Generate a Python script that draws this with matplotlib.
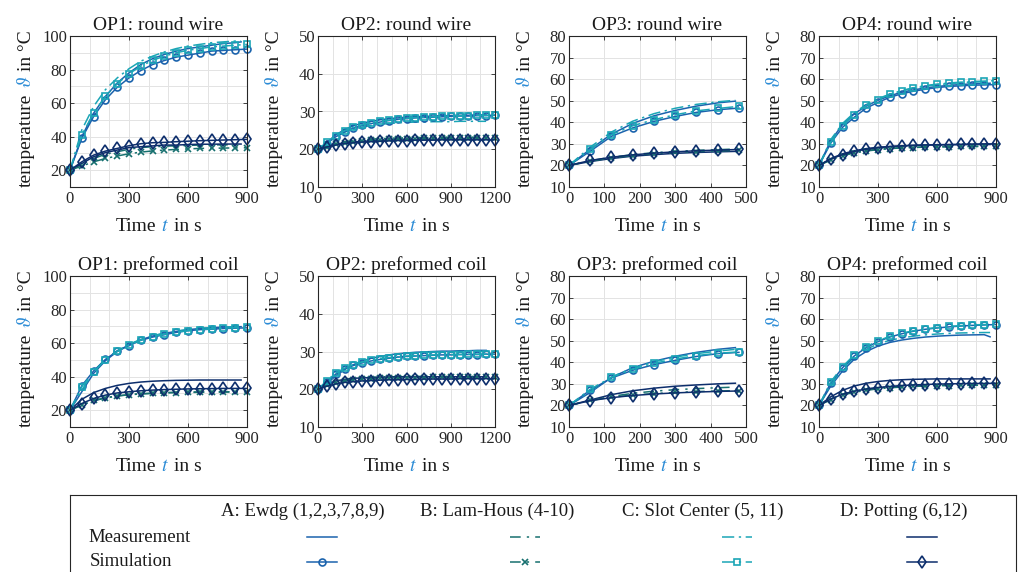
import numpy as np
import matplotlib
matplotlib.use('Agg')
import matplotlib.pyplot as plt
from matplotlib.ticker import MultipleLocator

plt.rcParams['font.family'] = ['Liberation Serif', 'DejaVu Serif']
plt.rcParams['mathtext.fontset'] = 'stix'

# ---- time axes (s) ----
t1_sim = np.arange(0, 901, 60)
t1_meas = np.append(np.arange(0, 841, 60), 870)
t2_sim = np.arange(0, 1201, 60)
t2_meas = np.arange(0, 1141, 60)
t3_sim = np.arange(0, 481, 60)
t3_meas = np.append(np.arange(0, 421, 60), 470)

# ---- OP1 round wire ----
op1_rw_A_sim = [20, 39, 52, 62, 69.4, 75, 79.4, 83, 85.4, 87.4, 88.6, 89.8, 91, 91.4, 91.8, 92.2]
op1_rw_B_sim = [20, 22.5, 25, 27, 28.5, 29.8, 30.8, 31.5, 32, 32.4, 32.7, 33, 33.1, 33.2, 33.3, 33.4]
op1_rw_C_sim = [20, 41, 54, 64, 71.5, 77.5, 82, 85.5, 88, 90, 91.5, 92.5, 93.5, 94, 94.5, 95]
op1_rw_D_sim = [20, 25, 29, 31.4, 33, 34.6, 35.8, 36.4, 36.6, 37, 37.3, 37.6, 37.8, 38, 38.2, 38.4]
op1_rw_A_meas = [20, 40, 54, 64, 72, 78, 83, 86.5, 89, 91, 92.5, 93.5, 94.5, 95.5, 96, 96.5]
op1_rw_B_meas = [20, 23.5, 27, 29.5, 31, 32.5, 33.5, 34, 34.3, 34.6, 34.8, 35, 35, 35.2, 35.2, 35.2]
op1_rw_C_meas = [20, 44, 58, 68, 75, 80.5, 85, 88, 90.5, 92.5, 94, 95, 96, 96.5, 97, 97]
op1_rw_D_meas = [20, 24, 28, 30.5, 32, 33.5, 34, 34.5, 35, 35, 35.3, 35.5, 35.5, 35.6, 35.6, 35.6]

# ---- OP2 round wire ----
op2_rw_A_sim = [20, 21.5, 23.3, 24.6, 25.6, 26.3, 26.8, 27.2, 27.6, 27.9, 28.1, 28.3, 28.4, 28.5, 28.6, 28.7, 28.8, 28.8, 28.9, 28.9, 29.0]
op2_rw_B_sim = [20, 20.7, 21.3, 21.7, 22.0, 22.2, 22.4, 22.5, 22.6, 22.7, 22.8, 22.8, 22.9, 22.9, 22.9, 23.0, 23.0, 23.0, 23.0, 23.0, 23.0]
op2_rw_C_sim = [20, 21.8, 23.6, 24.9, 25.8, 26.5, 27.0, 27.4, 27.7, 28.0, 28.2, 28.4, 28.5, 28.6, 28.7, 28.8, 28.9, 28.9, 29.0, 29.0, 29.1]
op2_rw_D_sim = [20, 20.6, 21.1, 21.5, 21.7, 21.9, 22.0, 22.1, 22.2, 22.3, 22.3, 22.4, 22.4, 22.4, 22.5, 22.5, 22.5, 22.5, 22.5, 22.5, 22.5]
op2_rw_A_meas = [20, 21.8, 23.8, 25.2, 26.2, 26.9, 27.4, 27.8, 28.1, 28.3, 28.5, 28.6, 28.7, 28.8, 28.9, 28.9, 29.0, 29.0, 29.1, 29.1]
op2_rw_B_meas = [20, 20.8, 21.5, 22.0, 22.3, 22.5, 22.7, 22.8, 22.9, 23.0, 23.0, 23.1, 23.1, 23.1, 23.2, 23.2, 23.2, 23.2, 23.2, 23.2]
op2_rw_C_meas = [20, 21.5, 23.2, 24.5, 25.3, 25.9, 26.3, 26.6, 26.8, 27.0, 27.1, 27.2, 27.2, 27.3, 27.3, 27.3, 27.4, 27.4, 27.4, 27.4]
op2_rw_D_meas = [20, 20.7, 21.3, 21.7, 21.9, 22.1, 22.2, 22.3, 22.4, 22.4, 22.5, 22.5, 22.5, 22.6, 22.6, 22.6, 22.6, 22.6, 22.6, 22.6]

# ---- OP3 round wire ----
op3_rw_A_sim = [20, 26.6, 33.5, 37.4, 40.4, 42.7, 44.6, 45.8, 46.6]
op3_rw_B_sim = [20, 22.0, 23.5, 24.6, 25.4, 26.0, 26.4, 26.7, 27.0]
op3_rw_C_sim = [20, 27.4, 34.3, 38.4, 41.2, 43.5, 45.3, 46.4, 47.4]
op3_rw_D_sim = [20, 22.3, 23.8, 24.9, 25.7, 26.3, 26.8, 27.1, 27.4]
op3_rw_A_meas = [20, 27.5, 34.5, 39.5, 43, 45.5, 47.5, 49, 49.8]
op3_rw_B_meas = [20, 22.2, 23.8, 25.0, 25.9, 26.5, 27.0, 27.3, 27.6]
op3_rw_C_meas = [20, 28.5, 35.5, 40.5, 44, 46.5, 48.3, 49.5, 50.2]
op3_rw_D_meas = [20, 21.8, 23.2, 24.3, 25.0, 25.6, 26.0, 26.3, 26.5]

# ---- OP4 round wire ----
op4_rw_A_sim = [20, 30.4, 37.7, 42.4, 46.6, 49.2, 51.6, 53.2, 54.4, 55.3, 56.1, 56.6, 56.9, 57.2, 57.3, 57.5]
op4_rw_B_sim = [20, 22.5, 24.5, 25.8, 26.7, 27.3, 27.8, 28.1, 28.3, 28.5, 28.6, 28.7, 28.8, 28.8, 28.9, 28.9]
op4_rw_C_sim = [20, 30.8, 38.5, 43.5, 47.8, 50.5, 53, 54.7, 56, 57, 57.7, 58.2, 58.6, 58.9, 59.1, 59.3]
op4_rw_D_sim = [20, 23, 25, 26.5, 27.5, 28.2, 28.7, 29, 29.3, 29.5, 29.6, 29.7, 29.8, 29.9, 30, 30]
op4_rw_A_meas = [20, 31.5, 39, 44, 47.5, 50.2, 52.3, 53.9, 55, 55.9, 56.6, 57.1, 57.5, 57.8, 58.0, 58.1]
op4_rw_B_meas = [20, 22.8, 24.8, 26, 26.9, 27.5, 27.9, 28.2, 28.4, 28.5, 28.6, 28.7, 28.7, 28.8, 28.8, 28.8]
op4_rw_C_meas = [20, 32, 39.5, 44.5, 48.2, 51, 53, 54.6, 55.8, 56.7, 57.4, 57.9, 58.3, 58.6, 58.8, 58.9]
op4_rw_D_meas = [20, 23.2, 25.4, 26.8, 27.8, 28.4, 28.8, 29.1, 29.3, 29.4, 29.5, 29.6, 29.6, 29.7, 29.7, 29.7]

# ---- OP1 preformed coil ----
op1_pc_A_sim = [20, 34.6, 43.4, 50.3, 55.2, 58.5, 61.7, 63.6, 65, 66.4, 67.4, 68, 68.3, 68.7, 68.9, 69.1]
op1_pc_B_sim = [20, 23.2, 25.8, 27.4, 28.5, 29.2, 29.7, 30, 30.3, 30.5, 30.6, 30.7, 30.8, 30.8, 30.9, 30.9]
op1_pc_C_sim = [20, 34, 43, 50, 55, 58.8, 61.8, 63.8, 65.3, 66.5, 67.4, 68, 68.5, 68.9, 69.2, 69.4]
op1_pc_D_sim = [20, 24, 27, 29, 30.3, 31, 31.6, 32, 32.3, 32.5, 32.7, 32.8, 32.9, 33, 33, 33]
op1_pc_A_meas = [20, 31, 42, 49.5, 55, 59, 62, 64.2, 65.8, 67, 68, 68.7, 69.2, 69.5, 69.7, 69.8]
op1_pc_B_meas = [20, 23, 25.6, 27.3, 28.5, 29.3, 29.8, 30.2, 30.5, 30.7, 30.8, 30.9, 31, 31, 31, 31]
op1_pc_C_meas = [20, 32, 43, 50.5, 55.5, 59.3, 62.2, 64.4, 66, 67.2, 68.1, 68.8, 69.2, 69.5, 69.7, 69.8]
op1_pc_D_meas = [20, 26.5, 30.5, 33, 34.8, 36, 36.8, 37.3, 37.6, 37.8, 37.9, 38, 38, 38, 38, 38]

# ---- OP2 preformed coil ----
op2_pc_A_sim = [20, 22, 24, 25.4, 26.3, 27, 27.5, 27.9, 28.2, 28.5, 28.7, 28.8, 28.9, 29, 29.1, 29.1, 29.2, 29.2, 29.2, 29.3, 29.3]
op2_pc_B_sim = [20, 21, 21.7, 22.2, 22.5, 22.7, 22.8, 22.9, 23.0, 23.0, 23.1, 23.1, 23.1, 23.2, 23.2, 23.2, 23.2, 23.2, 23.2, 23.2, 23.2]
op2_pc_C_sim = [20, 22.3, 24.3, 25.6, 26.5, 27.2, 27.7, 28.1, 28.4, 28.6, 28.8, 28.9, 29, 29.1, 29.1, 29.2, 29.2, 29.3, 29.3, 29.3, 29.3]
op2_pc_D_sim = [20, 20.8, 21.4, 21.8, 22.0, 22.2, 22.3, 22.4, 22.5, 22.5, 22.6, 22.6, 22.7, 22.7, 22.7, 22.7, 22.8, 22.8, 22.8, 22.8, 22.8]
op2_pc_A_meas = [20, 21.5, 23.5, 25.2, 26.5, 27.5, 28.2, 28.7, 29.1, 29.4, 29.6, 29.8, 29.9, 30, 30.1, 30.1, 30.2, 30.2, 30.3, 30.3]
op2_pc_B_meas = [20, 21.2, 22, 22.5, 22.8, 23, 23.1, 23.2, 23.3, 23.3, 23.4, 23.4, 23.4, 23.4, 23.4, 23.4, 23.4, 23.4, 23.4, 23.4]
op2_pc_C_meas = [20, 21.8, 23.8, 25.4, 26.6, 27.5, 28.1, 28.6, 29, 29.3, 29.5, 29.6, 29.7, 29.8, 29.9, 29.9, 30, 30, 30, 30]
op2_pc_D_meas = [20, 21.4, 22.2, 22.6, 22.9, 23.0, 23.1, 23.2, 23.2, 23.3, 23.3, 23.3, 23.3, 23.3, 23.3, 23.3, 23.3, 23.3, 23.3, 23.3]

# ---- OP3 preformed coil ----
op3_pc_A_sim = [20, 27.1, 32.7, 36.3, 38.9, 40.9, 42.7, 44, 44.6]
op3_pc_B_sim = [20, 22.3, 23.8, 24.8, 25.5, 26, 26.4, 26.7, 26.9]
op3_pc_C_sim = [20, 27.5, 33, 36.8, 39.5, 41.5, 43.1, 44.2, 44.8]
op3_pc_D_sim = [20, 22.2, 23.6, 24.6, 25.3, 25.8, 26.2, 26.5, 26.7]
op3_pc_A_meas = [20, 26, 33, 37.5, 40.5, 42.8, 44.6, 46, 46.8]
op3_pc_B_meas = [20, 22.2, 24.2, 25.6, 26.6, 27.3, 27.8, 28.2, 28.5]
op3_pc_C_meas = [20, 26.5, 33.2, 37.3, 40.2, 42.4, 44, 45.2, 46]
op3_pc_D_meas = [20, 22.5, 25, 26.8, 28, 28.9, 29.5, 30, 30.3]

# ---- OP4 preformed coil ----
op4_pc_A_sim = [20, 30.5, 37.5, 43, 46.8, 49.6, 51.7, 53.2, 54.4, 55.3, 55.9, 56.4, 56.8, 57.1, 57.3, 57.5]
op4_pc_B_sim = [20, 22.7, 24.8, 26.1, 27, 27.7, 28.2, 28.5, 28.8, 29, 29.1, 29.2, 29.3, 29.3, 29.4, 29.4]
op4_pc_C_sim = [20, 31, 38, 43.5, 47.2, 50, 52, 53.5, 54.6, 55.5, 56.1, 56.6, 57, 57.3, 57.5, 57.6]
op4_pc_D_sim = [20, 23, 25.2, 26.6, 27.6, 28.3, 28.8, 29.2, 29.5, 29.7, 29.9, 30, 30.1, 30.2, 30.2, 30.3]
op4_pc_A_meas = [20, 29, 36, 41.5, 45, 47.5, 49.2, 50.3, 51.1, 51.7, 52.1, 52.4, 52.6, 52.7, 52.8, 51.8]
op4_pc_B_meas = [20, 23, 25.2, 26.6, 27.6, 28.2, 28.6, 28.9, 29.1, 29.2, 29.3, 29.4, 29.4, 29.5, 29.5, 29.5]
op4_pc_C_meas = [20, 29.5, 37, 42.5, 46, 48.5, 50.2, 51.3, 52.1, 52.7, 53.1, 53.4, 53.6, 53.7, 53.8, 53.8]
op4_pc_D_meas = [20, 24, 27, 29, 30.3, 31.1, 31.6, 31.9, 32.1, 32.2, 32.3, 32.3, 32.3, 32.3, 32.3, 32.3]

titles = ['OP1: round wire', 'OP2: round wire', 'OP3: round wire', 'OP4: round wire',
          'OP1: preformed coil', 'OP2: preformed coil', 'OP3: preformed coil', 'OP4: preformed coil']
legend_headers = ['A: Ewdg (1,2,3,7,8,9)', 'B: Lam-Hous (4-10)', 'C: Slot Center (5, 11)', 'D: Potting (6,12)']
legend_rows = ['Measurement', 'Simulation']

# axis setup per operating point: xlim, xticks, ylim, yticks
op_axes = {
    1: dict(xlim=(0, 900), xt=[0, 300, 600, 900], ylim=(10, 100), yt=[20, 40, 60, 80, 100]),
    2: dict(xlim=(0, 1200), xt=[0, 300, 600, 900, 1200], ylim=(10, 50), yt=[10, 20, 30, 40, 50]),
    3: dict(xlim=(0, 500), xt=[0, 100, 200, 300, 400, 500], ylim=(10, 80), yt=list(range(10, 81, 10))),
    4: dict(xlim=(0, 900), xt=[0, 300, 600, 900], ylim=(10, 80), yt=list(range(10, 81, 10))),
}
op_time = {1: (t1_sim, t1_meas), 2: (t2_sim, t2_meas), 3: (t3_sim, t3_meas), 4: (t1_sim, t1_meas)}

panels = [
    (1, [op1_rw_A_sim, op1_rw_B_sim, op1_rw_C_sim, op1_rw_D_sim], [op1_rw_A_meas, op1_rw_B_meas, op1_rw_C_meas, op1_rw_D_meas]),
    (2, [op2_rw_A_sim, op2_rw_B_sim, op2_rw_C_sim, op2_rw_D_sim], [op2_rw_A_meas, op2_rw_B_meas, op2_rw_C_meas, op2_rw_D_meas]),
    (3, [op3_rw_A_sim, op3_rw_B_sim, op3_rw_C_sim, op3_rw_D_sim], [op3_rw_A_meas, op3_rw_B_meas, op3_rw_C_meas, op3_rw_D_meas]),
    (4, [op4_rw_A_sim, op4_rw_B_sim, op4_rw_C_sim, op4_rw_D_sim], [op4_rw_A_meas, op4_rw_B_meas, op4_rw_C_meas, op4_rw_D_meas]),
    (1, [op1_pc_A_sim, op1_pc_B_sim, op1_pc_C_sim, op1_pc_D_sim], [op1_pc_A_meas, op1_pc_B_meas, op1_pc_C_meas, op1_pc_D_meas]),
    (2, [op2_pc_A_sim, op2_pc_B_sim, op2_pc_C_sim, op2_pc_D_sim], [op2_pc_A_meas, op2_pc_B_meas, op2_pc_C_meas, op2_pc_D_meas]),
    (3, [op3_pc_A_sim, op3_pc_B_sim, op3_pc_C_sim, op3_pc_D_sim], [op3_pc_A_meas, op3_pc_B_meas, op3_pc_C_meas, op3_pc_D_meas]),
    (4, [op4_pc_A_sim, op4_pc_B_sim, op4_pc_C_sim, op4_pc_D_sim], [op4_pc_A_meas, op4_pc_B_meas, op4_pc_C_meas, op4_pc_D_meas]),
]

# styles for groups A-D
colors = ['#1b63ad', '#17706f', '#1ba6b6', '#0d2e6c']
lstyles = ['-', (0, (7, 4, 1.5, 4)), (0, (8, 3, 1.5, 3)), '-']
markers = ['o', 'x', 's', 'd']
msizes = [5, 4.2, 4.6, 6]
blue_txt = '#2b8bd6'
txt_col = '#1a1a1a'

W, H = 1028, 572
fig = plt.figure(figsize=(W / 100, H / 100), dpi=100)

col_left = [70, 318, 569, 819]
row_top = [36, 276]
ax_w, ax_h = 177, 151

axes = []
for i, (op, sims, meas) in enumerate(panels):
    r, c = divmod(i, 4)
    l, t = col_left[c], row_top[r]
    ax = fig.add_axes([l / W, 1 - (t + ax_h) / H, ax_w / W, ax_h / H])
    axes.append(ax)
    cfg = op_axes[op]
    ts, tm = op_time[op]
    ax.grid(True, which='both', color='#e3e3e3', lw=0.7)
    ax.set_axisbelow(True)
    for g in range(4):
        ax.plot(tm, meas[g], color=colors[g], ls=lstyles[g], lw=1.1)
    for g in range(4):
        ax.plot(ts, sims[g], color=colors[g], ls=lstyles[g], lw=1.1, marker=markers[g],
                ms=msizes[g], mfc='none', mew=1.2, clip_on=False)
    ax.set_xlim(cfg['xlim'])
    ax.set_ylim(cfg['ylim'])
    ax.set_xticks(cfg['xt'])
    ax.set_yticks(cfg['yt'])
    ax.xaxis.set_minor_locator(MultipleLocator(100))
    ax.yaxis.set_minor_locator(MultipleLocator(10))
    ax.tick_params(which='major', direction='in', length=3, width=0.6, top=True, right=True,
                   labelsize=12, colors='#262626')
    ax.tick_params(axis='x', which='major', pad=3)
    ax.tick_params(axis='y', which='major', pad=2)
    ax.tick_params(which='minor', length=0)
    for s in ax.spines.values():
        s.set_color('#262626')
        s.set_linewidth(0.8)
    ax.set_title(titles[i], fontsize=14, pad=4.5, color=txt_col)

# multi-coloured axis labels
rend = fig.canvas.get_renderer()


def text_width(s, size):
    tt = fig.text(0, 0, s, fontsize=size)
    w = tt.get_window_extent(rend).width
    tt.remove()
    return w


def multicolor(xp, yp, parts, size, vertical):
    # xp, yp in pixels from top-left; horizontal: (center, baseline); vertical: (baseline, center)
    sp = text_width('x x', size) - text_width('xx', size)
    ws = [text_width(s, size) for s, _ in parts]
    total = sum(ws) + sp * (len(parts) - 1)
    off = -total / 2
    for (s, col), w in zip(parts, ws):
        if vertical:
            fig.text(xp / W, (H - yp + off) / H, s, rotation=90, rotation_mode='anchor',
                     ha='left', va='baseline', color=col, fontsize=size)
        else:
            fig.text((xp + off) / W, 1 - yp / H, s, ha='left', va='baseline', color=col, fontsize=size)
        off += w + sp


ylab = [('temperature', txt_col), (r'$\vartheta$', blue_txt), ('in °C', txt_col)]
xlab = [('Time', txt_col), (r'$t$', blue_txt), ('in s', txt_col)]
for i in range(8):
    r, c = divmod(i, 4)
    l, t = col_left[c], row_top[r]
    multicolor(l - 39, t + ax_h / 2 - 3, ylab, 14, True)
    multicolor(l + ax_w / 2, t + ax_h + 44, xlab, 14, False)

# legend box
lx0, lx1, ly0 = 70, 1016, 495
lax = fig.add_axes([lx0 / W, 0, (lx1 - lx0) / W, (H - ly0) / H])
lax.set_xlim(lx0, lx1)
lax.set_ylim(H, ly0)
lax.set_xticks([])
lax.set_yticks([])
lax.spines['bottom'].set_visible(False)
for s in ['top', 'left', 'right']:
    lax.spines[s].set_color('#262626')
    lax.spines[s].set_linewidth(0.8)

head_x = [303, 497, 703, 904]
samp_x = [322, 525, 737, 922]
for k in range(4):
    lax.text(head_x[k], 511, legend_headers[k], ha='center', va='center', fontsize=13.5, color=txt_col)
    lax.plot([samp_x[k] - 15, samp_x[k] + 15], [537, 537], color=colors[k], ls=lstyles[k], lw=1.1)
    lax.plot([samp_x[k] - 15, samp_x[k] + 15], [562, 562], color=colors[k], ls=lstyles[k], lw=1.1)
    lax.plot([samp_x[k]], [562], color=colors[k], marker=markers[k], ms=msizes[k], mfc='none', mew=1.2)
lax.text(88, 537, legend_rows[0], ha='left', va='center', fontsize=13.5, color=txt_col)
lax.text(90, 562, legend_rows[1], ha='left', va='center', fontsize=13.5, color=txt_col)

fig.savefig('out.png', dpi=100)
